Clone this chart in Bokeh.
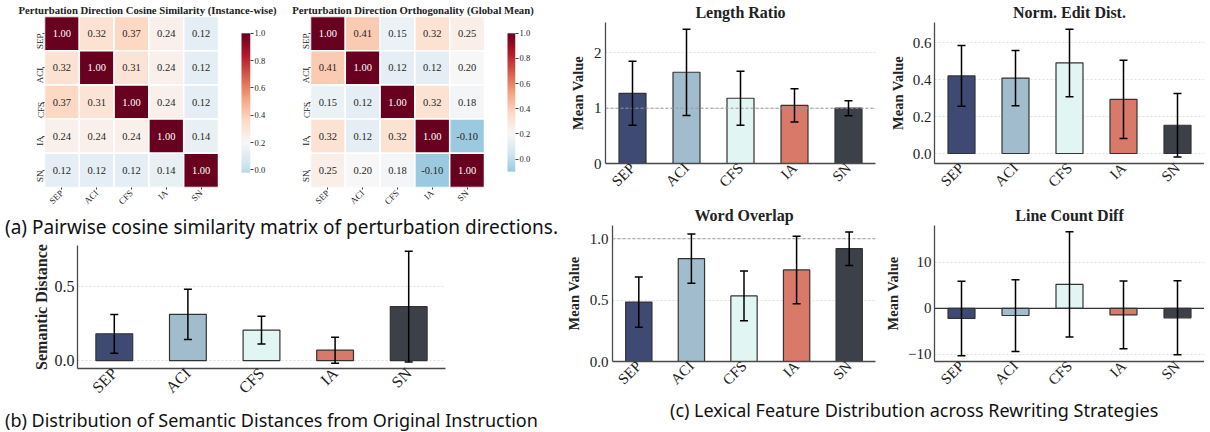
import numpy as np
from math import pi
from bokeh.plotting import figure
from bokeh.models import (ColumnDataSource, FactorRange, Range1d, FixedTicker, Whisker,
                          TeeHead, Span, Div, LinearColorMapper, CustomJSTickFormatter,
                          LinearAxis)
from bokeh.layouts import row, column
from bokeh.transform import transform
from bokeh.core.properties import value
from bokeh.embed import file_html
from bokeh.resources import INLINE

SERIF = "Liberation Serif"
SANS = "Noto Sans"

# ---------------- data ----------------
STRATEGIES = ["SEP", "ACI", "CFS", "IA", "SN"]
BAR_COLORS = ["#3e4a74", "#a1bdcd", "#e1f5f3", "#d8796a", "#3c4049"]

COS_INSTANCE = [
    [1.00, 0.32, 0.37, 0.24, 0.12],
    [0.32, 1.00, 0.31, 0.24, 0.12],
    [0.37, 0.31, 1.00, 0.24, 0.12],
    [0.24, 0.24, 0.24, 1.00, 0.14],
    [0.12, 0.12, 0.12, 0.14, 1.00],
]
COS_GLOBAL = [
    [1.00, 0.41, 0.15, 0.32, 0.25],
    [0.41, 1.00, 0.12, 0.12, 0.20],
    [0.15, 0.12, 1.00, 0.32, 0.18],
    [0.32, 0.12, 0.32, 1.00, -0.10],
    [0.25, 0.20, 0.18, -0.10, 1.00],
]
CBAR_TICKS = [0.0, 0.2, 0.4, 0.6, 0.8, 1.0]
CBAR1_RANGE = (-0.02, 1.0)
CBAR2_RANGE = (-0.10, 1.0)
CMAP_CENTER = 0.2
CMAP_HALF = 0.8

SEM_MEAN = [0.180, 0.310, 0.204, 0.070, 0.362]
SEM_STD = [0.130, 0.168, 0.093, 0.087, 0.372]

LEN_MEAN = [1.27, 1.65, 1.18, 1.05, 1.00]
LEN_STD = [0.58, 0.78, 0.49, 0.30, 0.135]

EDIT_MEAN = [0.420, 0.408, 0.490, 0.293, 0.153]
EDIT_STD = [0.164, 0.150, 0.183, 0.212, 0.172]

OVERLAP_MEAN = [0.484, 0.838, 0.534, 0.746, 0.919]
OVERLAP_STD = [0.204, 0.200, 0.203, 0.275, 0.136]

LINE_MEAN = [-2.17, -1.54, 5.24, -1.40, -2.03]
LINE_STD = [8.10, 7.80, 11.46, 7.37, 8.04]

RDBU_R = ["#053061", "#2166ac", "#4393c3", "#92c5de", "#d1e5f0", "#f7f7f7",
          "#fddbc7", "#f4a582", "#d6604d", "#b2182b", "#67001f"]


# ---------------- colour helpers ----------------
def rgb(h):
    return tuple(int(h[i:i + 2], 16) for i in (1, 3, 5))


def to_hex(c):
    return "#%02x%02x%02x" % tuple(int(round(v)) for v in c)


def rdbu_r(f):
    f = min(max(f, 0.0), 1.0) * 10
    i = min(int(f), 9)
    t = f - i
    a, b = rgb(RDBU_R[i]), rgb(RDBU_R[i + 1])
    return to_hex([a[k] + (b[k] - a[k]) * t for k in range(3)])


def centered_color(v):
    return rdbu_r((v - CMAP_CENTER + CMAP_HALF) / (2 * CMAP_HALF))


def make_mapper(lo, hi):
    n = 256
    pal = [centered_color(lo + (i + 0.5) / n * (hi - lo)) for i in range(n)]
    return LinearColorMapper(palette=pal, low=lo, high=hi)


def luminance(h):
    def lin(c):
        c = c / 255
        return c / 12.92 if c <= 0.03928 else ((c + 0.055) / 1.055) ** 2.4
    r, g, b = rgb(h)
    return 0.2126 * lin(r) + 0.7152 * lin(g) + 0.0722 * lin(b)


def base_fig(width, height, left, right, top, bottom, **kw):
    p = figure(width=width, height=height, output_backend="svg", toolbar_location=None,
               min_border_left=left, min_border_right=right, min_border_top=top,
               min_border_bottom=bottom, **kw)
    p.outline_line_color = None
    p.background_fill_color = "white"
    p.border_fill_color = "white"
    return p


def style_ticks(ax, size, standoff, tick_out):
    ax.axis_line_color = None
    ax.major_tick_in = 0
    ax.major_tick_out = tick_out
    ax.minor_tick_line_color = None
    ax.major_tick_line_color = "#444444"
    ax.major_label_text_font = SERIF
    ax.major_label_text_font_size = size
    ax.major_label_text_color = "#222222"
    ax.major_label_standoff = standoff


# ---------------- heatmaps (cells + colour bar share one frame) ----------------
def heatmap_fig(matrix, title, mapper, width, height, left, top, heat_w, heat_h,
                cb_gap, cb_w, cb_top_off, cb_len):
    n = len(STRATEGIES)
    frame_w = heat_w + cb_gap + cb_w
    right = width - left - frame_w
    bottom = height - top - heat_h
    unit = n / heat_w  # data units per pixel along x

    xs, ys, vals, labels, tcols = [], [], [], [], []
    for i, rname in enumerate(STRATEGIES):
        for j, cname in enumerate(STRATEGIES):
            v = matrix[i][j]
            xs.append(j + 0.5)
            ys.append(n - i - 0.5)
            vals.append(v)
            labels.append(f"{v:.2f}")
            tcols.append("#ffffff" if luminance(centered_color(v)) < 0.408 else "#262626")
    src = ColumnDataSource(dict(x=xs, y=ys, v=vals, label=labels, tc=tcols))

    lo, hi = mapper.low, mapper.high
    k = (hi - lo) / cb_len
    cb_bottom_off = heat_h - cb_top_off - cb_len
    p = base_fig(width, height, left, right, top, bottom,
                 x_range=Range1d(0, frame_w * unit), y_range=Range1d(0, n))
    p.extra_y_ranges = {"cb": Range1d(lo - cb_bottom_off * k, hi + cb_top_off * k)}

    p.rect(x="x", y="y", width=1, height=1, source=src,
           fill_color=transform("v", mapper), line_color="white", line_width=1.5)
    p.text(x="x", y="y", text="label", source=src, text_color="tc",
           text_align="center", text_baseline="middle",
           text_font=value(SERIF), text_font_size="10.5px")
    p.image(image=[np.linspace(lo, hi, 256).reshape(256, 1)],
            x=(heat_w + cb_gap) * unit, y=lo, dw=cb_w * unit, dh=hi - lo,
            color_mapper=mapper, y_range_name="cb")

    p.title.text = title
    p.title.align = "center"
    p.title.offset = -(cb_gap + cb_w) / 2
    p.title.text_font = SERIF
    p.title.text_font_size = "10.7px"
    p.title.text_font_style = "bold"
    p.title.text_color = "#222222"
    p.title.standoff = 2
    p.grid.visible = False

    cat_pos = [j + 0.5 for j in range(n)]
    p.xaxis.ticker = FixedTicker(ticks=cat_pos)
    p.xaxis.major_label_overrides = {j + 0.5: s for j, s in enumerate(STRATEGIES)}
    p.yaxis.ticker = FixedTicker(ticks=cat_pos)
    p.yaxis.major_label_overrides = {n - i - 0.5: s for i, s in enumerate(STRATEGIES)}
    style_ticks(p.xaxis[0], "9px", 2, 2)
    style_ticks(p.yaxis[0], "9px", 2, 2)
    p.xaxis.major_label_orientation = pi / 4
    p.yaxis.major_label_orientation = pi / 2

    cb_axis = LinearAxis(y_range_name="cb", ticker=FixedTicker(ticks=CBAR_TICKS),
                         formatter=CustomJSTickFormatter(code="return tick.toFixed(1);"))
    style_ticks(cb_axis, "8.5px", 1, 3)
    p.add_layout(cb_axis, "right")
    return p


# ---------------- bar charts ----------------
def bar_fig(means, stds, y_range, ticks, ylabel, width, height, left, right, top, bottom,
            title=None, tick_size="15px", label_size="14.5px", ref_line=None, ref_solid=False,
            tick_standoff=3, label_standoff=5):
    lo = [m - s for m, s in zip(means, stds)]
    hi = [m + s for m, s in zip(means, stds)]
    src = ColumnDataSource(dict(cat=STRATEGIES, mean=means, lo=lo, hi=hi, color=BAR_COLORS))
    p = base_fig(width, height, left, right, top, bottom,
                 x_range=FactorRange(*STRATEGIES), y_range=Range1d(*y_range))
    p.xgrid.visible = False
    p.ygrid.grid_line_color = "#d9d9d9"
    p.ygrid.grid_line_dash = "2 2"
    p.ygrid.grid_line_width = 0.8
    if ref_line is not None:
        if ref_solid:
            p.add_layout(Span(location=ref_line, dimension="width", line_color="#333333",
                              line_width=1.3))
        else:
            p.add_layout(Span(location=ref_line, dimension="width", line_color="#9a9a9a",
                              line_width=1.0, line_dash="3 2"))
    p.vbar(x="cat", top="mean", bottom=0, width=0.5, source=src, fill_color="color",
           line_color="#333333", line_width=1.2)
    p.add_layout(Whisker(base="cat", upper="hi", lower="lo", source=src, level="overlay",
                         line_color="black", line_width=1.5,
                         upper_head=TeeHead(size=8, line_color="black", line_width=1.5),
                         lower_head=TeeHead(size=8, line_color="black", line_width=1.5)))
    if title:
        p.title.text = title
        p.title.align = "center"
        p.title.text_font = SERIF
        p.title.text_font_size = "16px"
        p.title.text_font_style = "bold"
        p.title.text_color = "#222222"
        p.title.standoff = 3
    p.axis.axis_line_color = "#4a4a4a"
    p.axis.axis_line_width = 1.3
    p.axis.major_tick_in = 0
    p.axis.major_tick_out = 0
    p.axis.minor_tick_line_color = None
    p.axis.major_label_text_font = SERIF
    p.axis.major_label_text_font_size = tick_size
    p.axis.major_label_text_color = "#222222"
    p.xaxis.major_label_orientation = pi / 4
    p.xaxis.major_label_standoff = 2
    p.yaxis.major_label_standoff = tick_standoff
    p.yaxis.ticker = FixedTicker(ticks=ticks)
    p.yaxis.formatter = CustomJSTickFormatter(
        args=dict(dec=1 if any(abs(t - round(t)) > 1e-9 for t in ticks) else 0),
        code="const s = Math.abs(tick).toFixed(dec); return tick < 0 ? '\u2212' + s : s;")
    p.yaxis.axis_label = ylabel
    p.yaxis.axis_label_text_font = SERIF
    p.yaxis.axis_label_text_font_style = "bold"
    p.yaxis.axis_label_text_font_size = label_size
    p.yaxis.axis_label_text_color = "#222222"
    p.yaxis.axis_label_standoff = label_standoff
    return p


def caption(text, width, height, size="18px", pad_left=0):
    return Div(text=text, width=width, height=height,
               styles={"font-family": SANS, "font-size": size, "line-height": f"{height}px",
                       "color": "#111111", "white-space": "nowrap", "padding-left": f"{pad_left}px",
                       "overflow": "visible"})


# ---------------- assemble ----------------
mapper1 = make_mapper(*CBAR1_RANGE)
mapper2 = make_mapper(*CBAR2_RANGE)

h1 = heatmap_fig(COS_INSTANCE, "Perturbation Direction Cosine Similarity (Instance-wise)",
                 mapper1, 277, 212, 44, 15, 174, 173, 23, 9, 17, 141)
h2 = heatmap_fig(COS_GLOBAL, "Perturbation Direction Orthogonality (Global Mean)",
                 mapper2, 275, 212, 33, 15, 174, 173, 23, 8, 17, 140)

cap_a = caption("(a) Pairwise cosine similarity matrix of perturbation directions.", 552, 20,
                size="19px")

sem = bar_fig(SEM_MEAN, SEM_STD, (-0.053, 0.772), [0.0, 0.5], "Semantic Distance",
              552, 163, 77, 107, 3, 31, tick_size="16px", label_size="16px",
              tick_standoff=3, label_standoff=2)

cap_b = caption("(b) Distribution of Semantic Distances from Original Instruction", 552, 21)

lr = bar_fig(LEN_MEAN, LEN_STD, (0, 2.55), [0, 1, 2], "Mean Value",
             316, 200, 43, 3, 21, 37, title="Length Ratio", ref_line=1.0,
             tick_standoff=4, label_standoff=5)
ne = bar_fig(EDIT_MEAN, EDIT_STD, (-0.054, 0.709), [0.0, 0.2, 0.4, 0.6], "Mean Value",
             326, 200, 56, 0, 21, 37, title="Norm. Edit Dist.",
             tick_standoff=3, label_standoff=4)
wo = bar_fig(OVERLAP_MEAN, OVERLAP_STD, (0, 1.108), [0.0, 0.5, 1.0], "Mean Value",
             316, 196, 43, 3, 25, 30, title="Word Overlap", ref_line=1.0,
             tick_standoff=4, label_standoff=5)
lc = bar_fig(LINE_MEAN, LINE_STD, (-11.54, 18.04), [-10, 0, 10], "Mean Value",
             326, 196, 56, 0, 25, 30, title="Line Count Diff", ref_line=0, ref_solid=True,
             tick_standoff=3, label_standoff=4)

cap_c = caption("(c) Lexical Feature Distribution across Rewriting Strategies", 642, 18,
                pad_left=103)

left = column(row(h1, h2), cap_a, sem, cap_b)
right = column(row(lr, ne), row(wo, lc), cap_c)
root = row(left, right)

open("out.html", "w").write(file_html(root, INLINE))
